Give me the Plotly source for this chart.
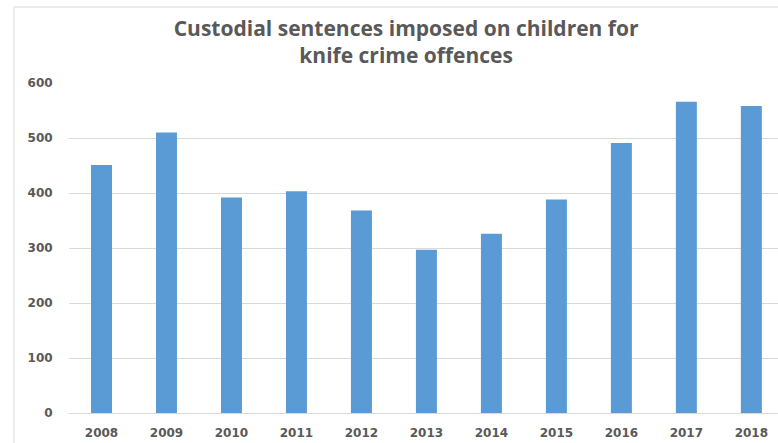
import plotly.graph_objects as go

years = ["2008", "2009", "2010", "2011", "2012", "2013", "2014", "2015", "2016", "2017", "2018"]
sentences = [451, 510, 392, 403, 368, 297, 326, 388, 491, 566, 558]

W, H = 778, 443
ML, MT, MB = 69, 83, 30
plot_w = W - ML
plot_h = H - MT - MB

fig = go.Figure(
    go.Bar(
        x=years,
        y=sentences,
        marker=dict(color="#5b9bd5", line=dict(width=0)),
        hoverinfo="x+y",
    )
)

# light frame around the chart area
def px_to_paper_x(px):
    return (px - ML) / plot_w

def px_to_paper_y(py):
    return (H - MB - py) / plot_h

fig.add_shape(
    type="rect", xref="paper", yref="paper",
    x0=px_to_paper_x(14), x1=px_to_paper_x(W + 5),
    y0=px_to_paper_y(H + 5), y1=px_to_paper_y(7),
    line=dict(color="#d9d9d9", width=1), fillcolor="rgba(0,0,0,0)", layer="below",
)

fig.update_layout(
    width=W, height=H,
    margin=dict(l=ML, r=0, t=MT, b=MB),
    paper_bgcolor="white", plot_bgcolor="white",
    bargap=0.677,
    showlegend=False,
    title=dict(
        text="Custodial sentences imposed on children for<br>knife crime offences",
        x=0.522, xref="container", xanchor="center",
        y=1 - 36.0 / H, yref="container", yanchor="middle",
        font=dict(family="Open Sans", size=21, color="#595959", weight="bold"),
    ),
    xaxis=dict(
        type="category",
        range=[-0.5, 10.41],
        showgrid=False, zeroline=False, showline=False,
        ticks="outside", ticklen=9, tickcolor="rgba(0,0,0,0)",
        tickfont=dict(family="DejaVu Sans", size=12, color="#595959", weight="bold"),
    ),
    yaxis=dict(
        range=[0, 600], dtick=100,
        showgrid=True, gridcolor="#d9d9d9", gridwidth=1,
        zeroline=True, zerolinecolor="#d9d9d9", zerolinewidth=1,
        showline=False,
        ticks="outside", ticklen=13, tickcolor="rgba(0,0,0,0)",
        tickfont=dict(family="DejaVu Sans", size=12, color="#595959", weight="bold"),
    ),
)

fig.write_html("out.html")
